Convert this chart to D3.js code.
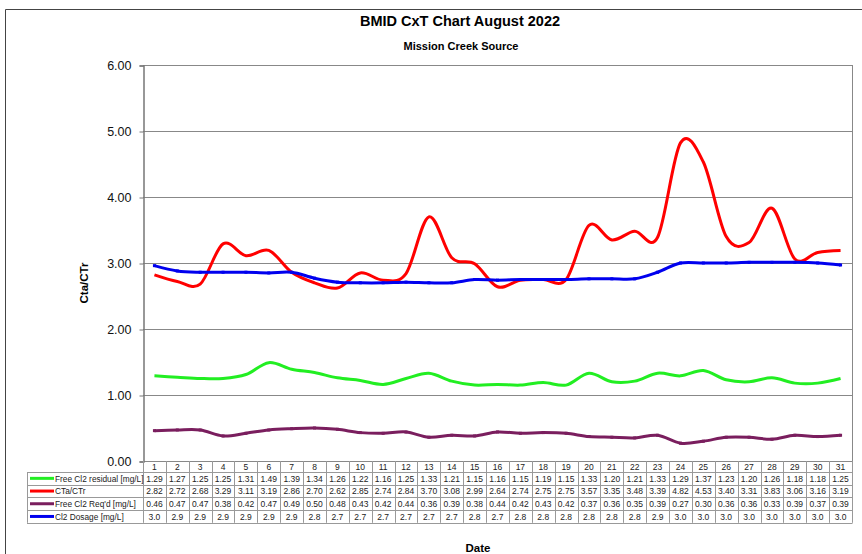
<!DOCTYPE html>
<html>
<head>
<meta charset="utf-8">
<script src="https://cdn.jsdelivr.net/npm/d3@7"></script>
<style>
  body { margin: 0; background: #fff; }
  text { font-family: "Liberation Sans", Arial, sans-serif; }
</style>
</head>
<body>
<div id="viz"></div>
<script>
// data
let days = [1,2,3,4,5,6,7,8,9,10,11,12,13,14,15,16,17,18,19,20,21,22,23,24,25,26,27,28,29,30,31]
let residual = [1.29,1.27,1.25,1.25,1.31,1.49,1.39,1.34,1.26,1.22,1.16,1.25,1.33,1.21,1.15,1.16,1.15,1.19,1.15,1.33,1.20,1.21,1.33,1.29,1.37,1.23,1.20,1.26,1.18,1.18,1.25]
let ctRatio = [2.82,2.72,2.68,3.29,3.11,3.19,2.86,2.70,2.62,2.85,2.74,2.84,3.70,3.08,2.99,2.64,2.74,2.75,2.75,3.57,3.35,3.48,3.39,4.82,4.53,3.40,3.31,3.83,3.06,3.16,3.19]
let required = [0.46,0.47,0.47,0.38,0.42,0.47,0.49,0.50,0.48,0.43,0.42,0.44,0.36,0.39,0.38,0.44,0.42,0.43,0.42,0.37,0.36,0.35,0.39,0.27,0.30,0.36,0.36,0.33,0.39,0.37,0.39]
let dosage = [2.96,2.88,2.86,2.86,2.86,2.85,2.86,2.77,2.71,2.70,2.70,2.71,2.70,2.70,2.75,2.74,2.75,2.75,2.75,2.76,2.76,2.76,2.86,3.00,3.00,3.00,3.01,3.01,3.01,3.00,2.97]
let yTicks = [0,1,2,3,4,5,6]

let series = [
  {name: "Free Cl2 residual [mg/L]", values: residual, color: "#22ee22", fmt: ".2f", marker: false},
  {name: "CTa/CTr", values: ctRatio, color: "#ff0000", fmt: ".2f", marker: false},
  {name: "Free Cl2 Req'd [mg/L]", values: required, color: "#7a1e5e", fmt: ".2f", marker: true},
  {name: "Cl2 Dosage [mg/L]", values: dosage, color: "#0000ee", fmt: ".1f", marker: true}
]

let W = 862, H = 554
let plot = {left: 143, right: 852, top: 65, bottom: 461}
let legendLeft = 27
let headerH = 11, rowH = 12.7

let svg = d3.select("#viz")
  .append("svg")
    .attr("width", W)
    .attr("height", H)

svg.append("rect").attr("width", W).attr("height", H).attr("fill", "#fff")

// outer frame (only left/top visible)
svg.append("path")
    .attr("d", `M5.5,${H} V9.5 H${W}`)
    .attr("fill", "none")
    .attr("stroke", "#444")
    .attr("stroke-width", 1)

// scales
let xScale = d3.scaleBand()
    .domain(days)
    .range([plot.left, plot.right])

let yScale = d3.scaleLinear()
    .domain([0, 6])
    .range([plot.bottom, plot.top])

// gridlines
svg.append("g")
  .selectAll("line")
  .data(yTicks)
  .join("line")
    .attr("x1", plot.left)
    .attr("x2", plot.right)
    .attr("y1", d => Math.round(yScale(d)) + 0.5)
    .attr("y2", d => Math.round(yScale(d)) + 0.5)
    .attr("stroke", "#888")

// right border of plot
svg.append("line")
    .attr("x1", plot.right + 0.5).attr("x2", plot.right + 0.5)
    .attr("y1", plot.top).attr("y2", plot.bottom)
    .attr("stroke", "#888")

// y axis
let yAxis = d3.axisLeft(yScale)
    .tickValues(yTicks)
    .tickFormat(d3.format(".2f"))
    .tickSize(4)
    .tickPadding(8)

let yG = svg.append("g")
    .attr("transform", `translate(${plot.left + 0.5},0.5)`)
    .call(yAxis)
yG.select(".domain").attr("stroke", "#777").attr("stroke-width", 1.5)
yG.selectAll(".tick line").attr("stroke", "#777")
yG.selectAll(".tick text")
    .attr("font-size", 12.5)
    .attr("fill", "#111")
    .attr("font-family", "Liberation Sans, Arial, sans-serif")

// lines
let line = d3.line()
    .x((d, i) => xScale(days[i]) + xScale.bandwidth() / 2)
    .y(d => yScale(d))
    .curve(d3.curveCatmullRom.alpha(0))

series.forEach(s => {
  svg.append("path")
      .datum(s.values)
      .attr("fill", "none")
      .attr("stroke", s.color)
      .attr("stroke-width", 3)
      .attr("stroke-linejoin", "round")
      .attr("d", line)
  if (s.marker) {
    svg.append("g")
      .selectAll("rect")
      .data(s.values)
      .join("rect")
        .attr("x", (d, i) => xScale(days[i]) + xScale.bandwidth() / 2 - 1.5)
        .attr("y", d => yScale(d) - 1.5)
        .attr("width", 3)
        .attr("height", 3)
        .attr("fill", s.color)
  }
})

// data table
let tableTop = plot.bottom
let tableBottom = tableTop + headerH + rowH * series.length
let grid = svg.append("g").attr("stroke", "#999").attr("stroke-width", 1)

// column lines
days.forEach(d => {
  grid.append("line")
      .attr("x1", Math.round(xScale(d)) + 0.5).attr("x2", Math.round(xScale(d)) + 0.5)
      .attr("y1", tableTop).attr("y2", tableBottom)
})
grid.append("line")
    .attr("x1", plot.right + 0.5).attr("x2", plot.right + 0.5)
    .attr("y1", tableTop).attr("y2", tableBottom)
grid.append("line")
    .attr("x1", legendLeft + 0.5).attr("x2", legendLeft + 0.5)
    .attr("y1", tableTop + headerH).attr("y2", tableBottom)

// row lines
d3.range(series.length + 1).forEach(i => {
  let y = Math.round(tableTop + headerH + i * rowH) + 0.5
  grid.append("line")
      .attr("x1", legendLeft).attr("x2", plot.right + 0.5)
      .attr("y1", y).attr("y2", y)
})

// header numbers
svg.append("g")
  .selectAll("text")
  .data(days)
  .join("text")
    .attr("x", d => xScale(d) + xScale.bandwidth() / 2)
    .attr("y", tableTop + headerH - 2)
    .attr("text-anchor", "middle")
    .attr("font-size", 8.5)
    .attr("fill", "#222")
    .text(d => d)

// rows
series.forEach((s, r) => {
  let yMid = tableTop + headerH + r * rowH + rowH / 2
  svg.append("line")
      .attr("x1", legendLeft + 3).attr("x2", legendLeft + 27)
      .attr("y1", yMid).attr("y2", yMid)
      .attr("stroke", s.color)
      .attr("stroke-width", 3)
  svg.append("text")
      .attr("x", legendLeft + 28)
      .attr("y", yMid + 3.2)
      .attr("font-size", 8.3)
      .attr("fill", "#222")
      .text(s.name)
  let f = d3.format(s.fmt)
  svg.append("g")
    .selectAll("text")
    .data(s.values)
    .join("text")
      .attr("x", (d, i) => xScale(days[i]) + xScale.bandwidth() / 2)
      .attr("y", yMid + 3.2)
      .attr("text-anchor", "middle")
      .attr("font-size", 8.5)
      .attr("fill", "#222")
      .text(d => f(d))
})

// titles
svg.append("text")
    .attr("x", 460).attr("y", 26)
    .attr("text-anchor", "middle")
    .attr("font-size", 14.5)
    .attr("font-weight", "bold")
    .text("BMID CxT Chart August 2022")

svg.append("text")
    .attr("x", 461).attr("y", 50)
    .attr("text-anchor", "middle")
    .attr("font-size", 11)
    .attr("font-weight", "bold")
    .text("Mission Creek Source")

svg.append("text")
    .attr("transform", "translate(88,283) rotate(-90)")
    .attr("text-anchor", "middle")
    .attr("font-size", 11.5)
    .attr("font-weight", "bold")
    .text("Cta/CTr")

svg.append("text")
    .attr("x", 478).attr("y", 552)
    .attr("text-anchor", "middle")
    .attr("font-size", 11.5)
    .attr("font-weight", "bold")
    .text("Date")
</script>
</body>
</html>
